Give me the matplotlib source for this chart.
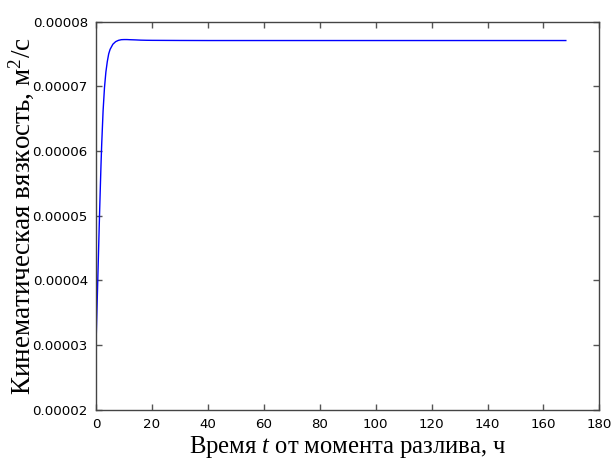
import matplotlib
matplotlib.use("Agg")
import matplotlib.pyplot as plt
from matplotlib.ticker import FormatStrFormatter, MultipleLocator

plt.rcParams['mathtext.fontset'] = 'custom'
plt.rcParams['mathtext.rm'] = 'Liberation Serif'
plt.rcParams['mathtext.it'] = 'Liberation Serif:italic'

time_h = [0, 0.25, 0.5, 0.75, 1.0, 1.25, 1.5, 1.75, 2.0, 2.5, 3.0, 3.5, 4.0, 4.5, 5.0,
          6.0, 7.0, 8.0, 9.0, 10.0, 11.0, 12.0, 14.0, 16.0, 18.0, 20.0, 25.0, 30.0,
          40.0, 60.0, 80.0, 100.0, 120.0, 140.0, 160.0, 168.0]
viscosity = [3.05e-5, 3.45e-5, 3.85e-5, 4.25e-5, 4.65e-5, 5.05e-5, 5.42e-5, 5.78e-5, 6.10e-5,
             6.62e-5, 6.98e-5, 7.22e-5, 7.38e-5, 7.50e-5, 7.57e-5,
             7.65e-5, 7.69e-5, 7.71e-5, 7.72e-5, 7.722e-5, 7.722e-5, 7.72e-5, 7.717e-5,
             7.713e-5, 7.711e-5, 7.71e-5, 7.709e-5, 7.708e-5,
             7.707e-5, 7.707e-5, 7.707e-5, 7.707e-5, 7.707e-5, 7.707e-5, 7.707e-5, 7.707e-5]

fig = plt.figure(figsize=(6.16, 4.59), dpi=100)
ax = fig.add_axes([0.156, 0.107, 0.817, 0.846])
ax.plot(time_h, viscosity, color='blue', lw=1.0)

ax.set_xlim(0, 180)
ax.set_ylim(0.00002, 0.00008)
ax.xaxis.set_major_locator(MultipleLocator(20))
ax.yaxis.set_major_locator(MultipleLocator(0.00001))
ax.yaxis.set_major_formatter(FormatStrFormatter('%.5f'))
ax.tick_params(direction='in', top=True, right=True, length=4, width=1,
               labelsize=9.6, pad=6, color='#555555')
for s in ax.spines.values():
    s.set_color('#444444')
    s.set_linewidth(1.0)

ax.set_xlabel('Время $t$ от момента разлива, ч', family='Liberation Serif', fontsize=17.7, labelpad=2)
ax.set_ylabel('Кинематическая вязкость, м$^{2}$/с', family='Liberation Serif', fontsize=19.5)
ax.yaxis.set_label_coords(-0.12, 0.5)

fig.savefig('out.png', dpi=100)
